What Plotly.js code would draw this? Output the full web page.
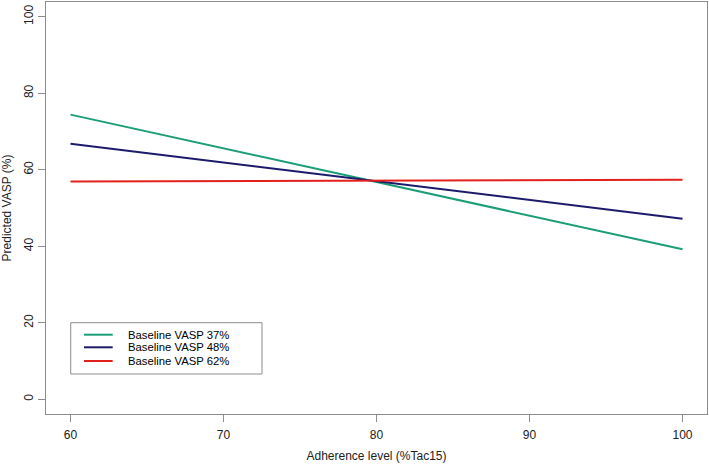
<!DOCTYPE html>
<html>
<head>
<meta charset="utf-8">
<script src="https://cdn.plot.ly/plotly-3.0.1.min.js"></script>
<style>html,body{margin:0;padding:0;background:#fff;}#chart{width:709px;height:466px;}</style>
</head>
<body>
<div id="chart"></div>
<script>
const adherence = [60, 100];
const seriesNames = ["Baseline VASP 37%", "Baseline VASP 48%", "Baseline VASP 62%"];
const vasp37 = [74.4, 39.2];
const vasp48 = [66.8, 47.2];
const vasp62 = [56.9, 57.4];
const xTicks = [60, 70, 80, 90, 100];
const yTicks = [0, 20, 40, 60, 80, 100];
const colors = ["#1b9e77", "#1c1a6b", "#e3211c"];

const seriesValues = [vasp37, vasp48, vasp62];
const traces = seriesValues.map((v, i) => ({
  x: adherence, y: v, type: "scatter", mode: "lines",
  name: seriesNames[i], showlegend: false,
  line: {color: colors[i], width: 2}
}));

// manual legend (R-style compact box)
const legX0 = 0.0374, legX1 = 0.3268, legY0 = 0.0971, legY1 = 0.2216;
const rowY = [0.1925, 0.1619, 0.1286];
const shapes = [{
  type: "rect", xref: "paper", yref: "paper",
  x0: legX0, x1: legX1, y0: legY0, y1: legY1,
  line: {color: "#8c8c8c", width: 1}, fillcolor: "rgba(0,0,0,0)"
}];
const annotations = [];
seriesNames.forEach((n, i) => {
  shapes.push({type: "line", xref: "paper", yref: "paper",
    x0: 0.0575, x1: 0.1009, y0: rowY[i], y1: rowY[i],
    line: {color: colors[i], width: 2}});
  annotations.push({xref: "paper", yref: "paper", x: 0.1205, y: rowY[i],
    xanchor: "left", yanchor: "middle", showarrow: false, text: n,
    font: {family: "Liberation Sans, Arial, sans-serif", size: 11.3, color: "#000"}});
});

const layout = {
  width: 709, height: 466,
  margin: {l: 46, r: 2, t: 2, b: 52},
  paper_bgcolor: "#fff", plot_bgcolor: "#fff",
  font: {family: "Liberation Sans, Arial, sans-serif", size: 12, color: "#222"},
  xaxis: {
    range: [58.4, 101.6], tickvals: xTicks, ticktext: xTicks.map(String),
    showgrid: false, zeroline: false, showline: true, mirror: true,
    linecolor: "#8c8c8c", linewidth: 1,
    ticks: "outside", ticklen: 7, tickcolor: "#8c8c8c", ticklabelstandoff: 3,
    title: {text: "Adherence level (%Tac15)", standoff: 10, font: {size: 12}}
  },
  yaxis: {
    range: [-3.84, 103.84], tickvals: yTicks, ticktext: yTicks.map(String),
    showgrid: false, zeroline: false, showline: true, mirror: true,
    linecolor: "#8c8c8c", linewidth: 1,
    ticks: "outside", ticklen: 7, tickcolor: "#8c8c8c", tickangle: -90,
    title: {text: "Predicted VASP (%)", standoff: 8, font: {size: 12}}
  },
  shapes: shapes,
  annotations: annotations
};
Plotly.newPlot("chart", traces, layout, {displayModeBar: false, staticPlot: true});
</script>
</body>
</html>
